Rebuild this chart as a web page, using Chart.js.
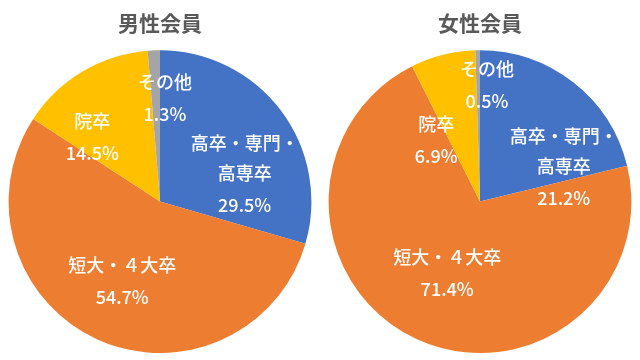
<!DOCTYPE html>
<html><head><meta charset="utf-8">
<script src="https://cdn.jsdelivr.net/npm/chart.js@4"></script>
<style>
html,body{margin:0;padding:0;background:#fff;}
#wrap{display:flex;width:640px;height:360px;}
.box{width:320px;height:360px;position:relative;}
</style></head><body>
<div id="wrap"><div class="box"><canvas id="c1"></canvas></div><div class="box"><canvas id="c2"></canvas></div></div>
<script>
const categories = ['高卒・専門・高専卒', '短大・４大卒', '院卒', 'その他'];
const labelLines = [['高卒・専門・', '高専卒'], ['短大・４大卒'], ['院卒'], ['その他']];
const maleValues = [29.5, 54.7, 14.5, 1.3];
const femaleValues = [21.2, 71.4, 6.9, 0.5];
const titles = ['男性会員', '女性会員'];
const colors = ['#4472C4', '#ED7D31', '#FFC000', '#A5A5A5'];

const FONT = '"Noto Sans CJK JP", "Noto Sans", sans-serif';

const labelPlugin = {
  id: 'sliceLabels',
  afterDatasetsDraw(chart, args, opts) {
    const ctx = chart.ctx;
    const meta = chart.getDatasetMeta(0);
    const data = chart.data.datasets[0].data;
    ctx.save();
    ctx.fillStyle = '#ffffff';
    ctx.font = '500 18px ' + FONT;
    ctx.textAlign = 'center';
    ctx.textBaseline = 'middle';
    meta.data.forEach((arc, i) => {
      const r = arc.outerRadius;
      const a = opts.anchors[i];
      const x = arc.x + a[0] * r;
      let y = arc.y + a[1] * r;
      const lines = labelLines[i];
      lines.forEach((t, j) => {
        if (j > 0) y += 30;
        ctx.fillText(t, x, y);
      });
      y += 32;
      ctx.fillText(data[i].toFixed(1) + '%', x, y);
    });
    ctx.restore();
  }
};

function makeChart(id, values, title, anchors) {
  return new Chart(document.getElementById(id), {
    type: 'pie',
    data: {
      labels: categories,
      datasets: [{ data: values, backgroundColor: colors, borderWidth: 0 }]
    },
    options: {
      responsive: true,
      maintainAspectRatio: false,
      animation: false,
      layout: { padding: { top: 0, bottom: 7, left: 0, right: 0 } },
      plugins: {
        legend: { display: false },
        tooltip: { enabled: false },
        title: {
          display: true,
          text: title,
          color: '#595959',
          font: { family: FONT, size: 21, weight: 'bold' },
          padding: { top: 10, bottom: 15 }
        },
        sliceLabels: { anchors: anchors }
      }
    },
    plugins: [labelPlugin]
  });
}

makeChart('c1', maleValues, titles[0], [[0.559, -0.388], [-0.25, 0.421], [-0.447, -0.533], [0.033, -0.789]]);
makeChart('c2', femaleValues, titles[1], [[0.553, -0.434], [-0.217, 0.368], [-0.289, -0.513], [0.046, -0.875]]);
</script>
</body></html>
